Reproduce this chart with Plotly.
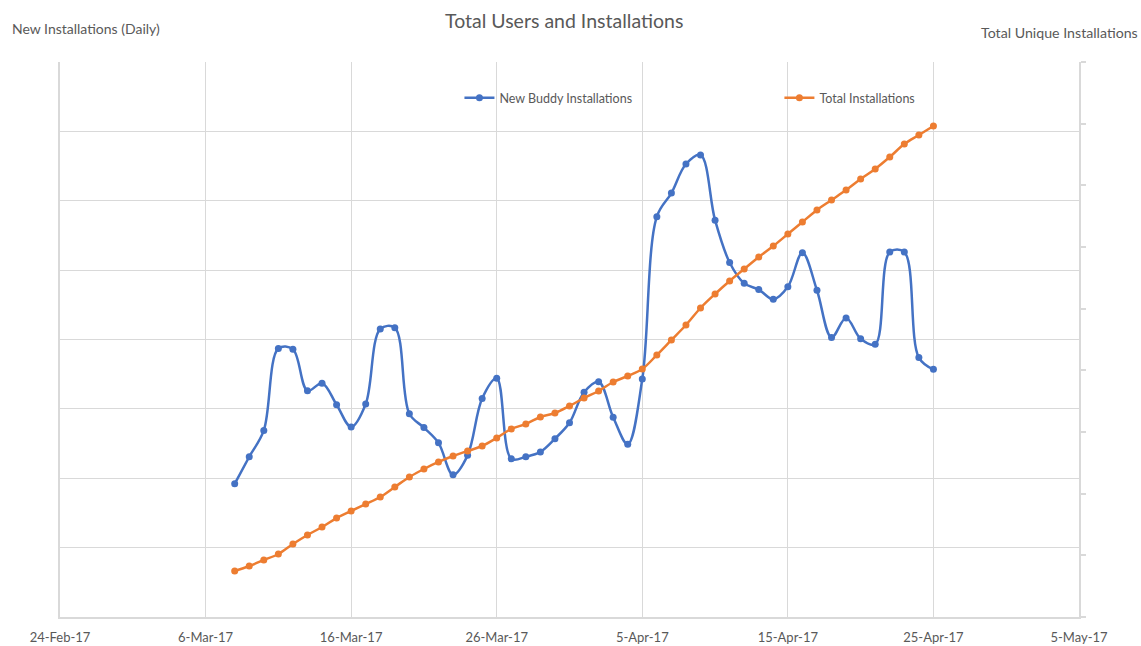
import plotly.graph_objects as go

dates = [
    "2017-03-08", "2017-03-09", "2017-03-10", "2017-03-11", "2017-03-12", "2017-03-13", "2017-03-14",
    "2017-03-15", "2017-03-16", "2017-03-17", "2017-03-18", "2017-03-19", "2017-03-20", "2017-03-21",
    "2017-03-22", "2017-03-23", "2017-03-24", "2017-03-25", "2017-03-26", "2017-03-27", "2017-03-28",
    "2017-03-29", "2017-03-30", "2017-03-31", "2017-04-01", "2017-04-02", "2017-04-03", "2017-04-04",
    "2017-04-05", "2017-04-06", "2017-04-07", "2017-04-08", "2017-04-09", "2017-04-10", "2017-04-11",
    "2017-04-12", "2017-04-13", "2017-04-14", "2017-04-15", "2017-04-16", "2017-04-17", "2017-04-18",
    "2017-04-19", "2017-04-20", "2017-04-21", "2017-04-22", "2017-04-23", "2017-04-24", "2017-04-25",
]

new_installs = [
    192, 231, 269, 387, 386, 326, 337,
    306, 274, 307, 415, 417, 293, 273,
    251, 205, 233, 315, 344, 228, 231,
    238, 257, 280, 324, 339, 288, 249,
    343, 577, 611, 653, 666, 572, 511,
    481, 472, 458, 476, 525, 471, 403,
    431, 401, 393, 526, 526, 374, 357,
]

total_installs = [
    746, 827, 924, 1022, 1184, 1330, 1459,
    1605, 1719, 1832, 1946, 2108, 2270, 2400,
    2514, 2611, 2692, 2773, 2903, 3049, 3130,
    3243, 3308, 3422, 3551, 3665, 3811, 3908,
    4022, 4249, 4492, 4735, 5011, 5238, 5449,
    5643, 5838, 6016, 6211, 6405, 6600, 6762,
    6924, 7103, 7265, 7459, 7670, 7816, 7962,
]

x_ticks = ["2017-02-24", "2017-03-06", "2017-03-16", "2017-03-26",
           "2017-04-05", "2017-04-15", "2017-04-25", "2017-05-05"]
x_tick_labels = ["24-Feb-17", "6-Mar-17", "16-Mar-17", "26-Mar-17",
                 "5-Apr-17", "15-Apr-17", "25-Apr-17", "5-May-17"]

BLUE = "#4472C4"
ORANGE = "#ED7D31"
GRID = "#D9D9D9"
TEXT = "#595959"
FONT = "Lato, 'Open Sans', sans-serif"

fig = go.Figure()
fig.add_trace(go.Scatter(
    x=dates, y=new_installs, name="New Buddy Installations",
    mode="lines+markers", line=dict(color=BLUE, width=2.5, shape="spline", smoothing=1),
    marker=dict(color=BLUE, size=7), yaxis="y", legend="legend",
))
fig.add_trace(go.Scatter(
    x=dates, y=total_installs, name="Total Installations",
    mode="lines+markers", line=dict(color=ORANGE, width=2.5, shape="spline", smoothing=1),
    marker=dict(color=ORANGE, size=7), yaxis="y2", legend="legend2",
))

fig.update_layout(
    width=1141, height=646,
    margin=dict(l=60, r=62, t=62, b=29, autoexpand=False),
    paper_bgcolor="white", plot_bgcolor="white",
    font=dict(family=FONT, color=TEXT, size=12),
    showlegend=True,
    xaxis=dict(
        type="date", range=["2017-02-24", "2017-05-05"],
        tickvals=x_ticks, ticktext=x_tick_labels,
        showgrid=True, gridcolor=GRID, gridwidth=1,
        showline=True, linecolor=GRID, linewidth=1.5,
        ticks="", ticklabelstandoff=8,
        tickfont=dict(size=13, color=TEXT), automargin=False,
        zeroline=False,
    ),
    yaxis=dict(
        range=[0, 800], dtick=100, showticklabels=False,
        showgrid=True, gridcolor=GRID, gridwidth=1,
        showline=True, linecolor=GRID, linewidth=1.5,
        zeroline=False, ticks="", automargin=False,
    ),
    yaxis2=dict(
        range=[0, 9000], dtick=1000, overlaying="y", side="right",
        showticklabels=False, showgrid=False,
        showline=True, linecolor=GRID, linewidth=1.5,
        ticks="outside", ticklen=5, tickcolor=GRID, tickwidth=1.5,
        zeroline=False, automargin=False,
    ),
    legend=dict(
        x=0.392, y=0.935, xanchor="left", yanchor="middle",
        orientation="h", bgcolor="rgba(0,0,0,0)",
        font=dict(size=12.5, color=TEXT, family=FONT), itemwidth=30,
    ),
    legend2=dict(
        x=0.706, y=0.935, xanchor="left", yanchor="middle",
        orientation="h", bgcolor="rgba(0,0,0,0)",
        font=dict(size=12.5, color=TEXT, family=FONT), itemwidth=30,
    ),
    annotations=[
        dict(text="Total Users and Installations", x=564, y=20, xref="paper", yref="paper",
             yanchor="middle", showarrow=False, font=dict(size=19.5, color=TEXT, family=FONT)),
        dict(text="New Installations (Daily)", x=10, y=29, xref="paper", yref="paper",
             xanchor="left", yanchor="middle", showarrow=False,
             font=dict(size=14, color=TEXT, family=FONT)),
        dict(text="Total Unique Installations", x=1140, y=32, xref="paper", yref="paper",
             xanchor="right", yanchor="middle", showarrow=False,
             font=dict(size=14.2, color=TEXT, family=FONT)),
    ],
)

# convert pixel positions of annotations into paper coordinates
pw, ph = 1141 - 60 - 62, 646 - 62 - 29
for a in fig.layout.annotations:
    a.x = (a.x - 60) / pw
    a.y = (617 - a.y) / ph

fig.write_html("out.html")
